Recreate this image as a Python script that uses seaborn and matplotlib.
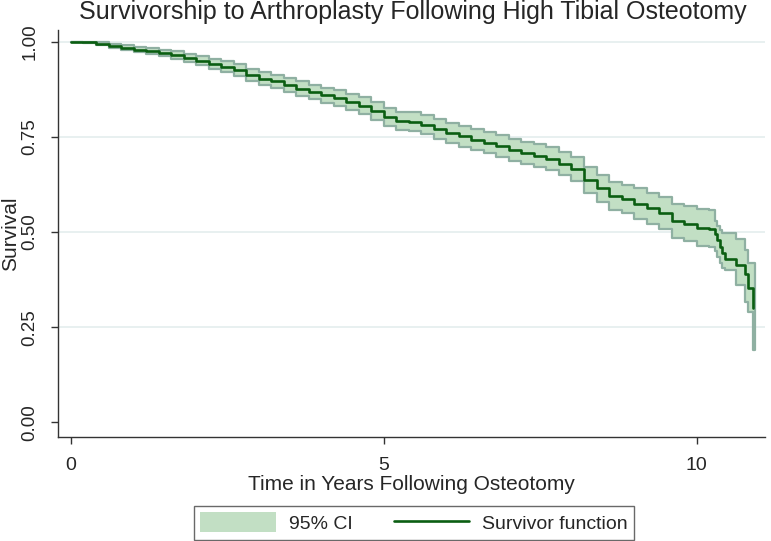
import matplotlib
matplotlib.use("Agg")
import matplotlib.pyplot as plt
import seaborn as sns
import pandas as pd
from matplotlib.patches import Patch
from matplotlib.lines import Line2D

# ---- data ----
time_years = [0.0, 0.2, 0.4, 0.6, 0.8, 1.0, 1.2, 1.4, 1.6, 1.8, 2.0, 2.2, 2.4, 2.6, 2.8,
              3.0, 3.2, 3.4, 3.6, 3.8, 4.0, 4.2, 4.4, 4.6, 4.8, 5.0, 5.2, 5.4, 5.6, 5.8,
              6.0, 6.2, 6.4, 6.6, 6.8, 7.0, 7.2, 7.4, 7.6, 7.8, 8.0, 8.2, 8.4, 8.6, 8.8,
              9.0, 9.2, 9.4, 9.6, 9.8, 10.0, 10.2, 10.29, 10.33, 10.37, 10.41, 10.45,
              10.63, 10.77, 10.82, 10.90, 10.93]
survival = [1.000, 1.000, 0.995, 0.990, 0.985, 0.980, 0.975, 0.971, 0.965, 0.958, 0.951,
            0.943, 0.935, 0.926, 0.914, 0.903, 0.896, 0.887, 0.877, 0.868, 0.860, 0.852,
            0.843, 0.832, 0.818, 0.802, 0.793, 0.790, 0.782, 0.772, 0.760, 0.752, 0.743,
            0.735, 0.726, 0.716, 0.708, 0.701, 0.693, 0.680, 0.666, 0.637, 0.615, 0.595,
            0.587, 0.575, 0.563, 0.550, 0.530, 0.522, 0.512, 0.508, 0.495, 0.478, 0.462,
            0.445, 0.428, 0.413, 0.391, 0.352, 0.301, 0.301]
ci_upper = [1.000, 1.000, 0.999, 0.995, 0.991, 0.987, 0.983, 0.980, 0.975, 0.969, 0.963,
            0.956, 0.949, 0.941, 0.930, 0.920, 0.913, 0.905, 0.896, 0.887, 0.880, 0.873,
            0.864, 0.854, 0.841, 0.826, 0.817, 0.815, 0.807, 0.798, 0.786, 0.779, 0.770,
            0.763, 0.754, 0.745, 0.737, 0.731, 0.723, 0.711, 0.698, 0.671, 0.650, 0.632,
            0.625, 0.615, 0.604, 0.593, 0.575, 0.568, 0.560, 0.558, 0.530, 0.515, 0.505,
            0.497, 0.497, 0.483, 0.453, 0.418, 0.418, 0.418]
ci_lower = [1.000, 0.998, 0.991, 0.985, 0.979, 0.973, 0.967, 0.962, 0.955, 0.947, 0.939,
            0.930, 0.921, 0.911, 0.898, 0.886, 0.879, 0.869, 0.858, 0.849, 0.840, 0.831,
            0.822, 0.810, 0.795, 0.778, 0.769, 0.765, 0.757, 0.746, 0.734, 0.725, 0.716,
            0.707, 0.698, 0.687, 0.679, 0.671, 0.663, 0.649, 0.634, 0.603, 0.580, 0.558,
            0.549, 0.535, 0.522, 0.507, 0.485, 0.476, 0.464, 0.460, 0.450, 0.435, 0.420,
            0.405, 0.400, 0.360, 0.317, 0.290, 0.189, 0.189]

x_ticks = [0, 5, 10]
y_ticks = [0.00, 0.25, 0.50, 0.75, 1.00]
y_tick_labels = ["0.00", "0.25", "0.50", "0.75", "1.00"]

title = "Survivorship to Arthroplasty Following High Tibial Osteotomy"
x_label = "Time in Years Following Osteotomy"
y_label = "Survival"
legend_labels = ["95% CI", "Survivor function"]

# ---- styling ----
sns.set_theme(style="white")
plt.rcParams["font.family"] = ["Liberation Sans", "DejaVu Sans"]

line_color = "#0b5e12"
band_color = "#c2dfc4"
band_edge = "#8fb0a2"
grid_color = "#e4eeee"

df = pd.DataFrame({"t": time_years, "s": survival, "lo": ci_lower, "hi": ci_upper})

fig = plt.figure(figsize=(7.71, 5.41), dpi=100)
ax = fig.add_axes([0.075, 0.192, 0.917, 0.753])

for yv in y_ticks[1:]:
    ax.axhline(yv, color=grid_color, lw=1.2, zorder=0)

ax.fill_between(df["t"], df["lo"], df["hi"], step="post", facecolor=band_color,
                edgecolor=band_edge, linewidth=1.6, zorder=1)
sns.lineplot(data=df.iloc[:-1], x="t", y="s", ax=ax, color=line_color, lw=1.9,
             drawstyle="steps-post", zorder=3, legend=False)

ax.set_xlim(-0.21, 11.09)
ax.set_ylim(-0.039, 1.032)
ax.set_xticks(x_ticks)
ax.set_xticklabels([str(v) for v in x_ticks], fontsize=14)
ax.set_yticks(y_ticks)
ax.set_yticklabels(y_tick_labels, fontsize=13.5, rotation=90, va="center")
ax.tick_params(axis="both", direction="out", length=5, width=1, color="#333333",
               bottom=True, left=True)
ax.tick_params(axis="x", pad=9)
ax.tick_params(axis="y", pad=9)
for side in ["top", "right"]:
    ax.spines[side].set_visible(False)
for side in ["left", "bottom"]:
    ax.spines[side].set_color("#333333")
    ax.spines[side].set_linewidth(1.0)

ax.set_xlabel(x_label, fontsize=15, labelpad=1)
ax.set_ylabel(y_label, fontsize=15, labelpad=1)
fig.text(0.536, 0.977, title, ha="center", va="center", fontsize=18)

handles = [Patch(facecolor=band_color, edgecolor="none"),
           Line2D([0], [0], color=line_color, lw=1.9)]
fig.legend(handles, legend_labels, loc="center", bbox_to_anchor=(0.537, 0.034),
           ncol=2, fontsize=14, frameon=True, fancybox=False, edgecolor="#444444",
           handlelength=3.9, handleheight=1.2, columnspacing=2.1, handletextpad=0.65,
           borderpad=0.35, borderaxespad=0)

fig.savefig("out.png", dpi=100, facecolor="white")
